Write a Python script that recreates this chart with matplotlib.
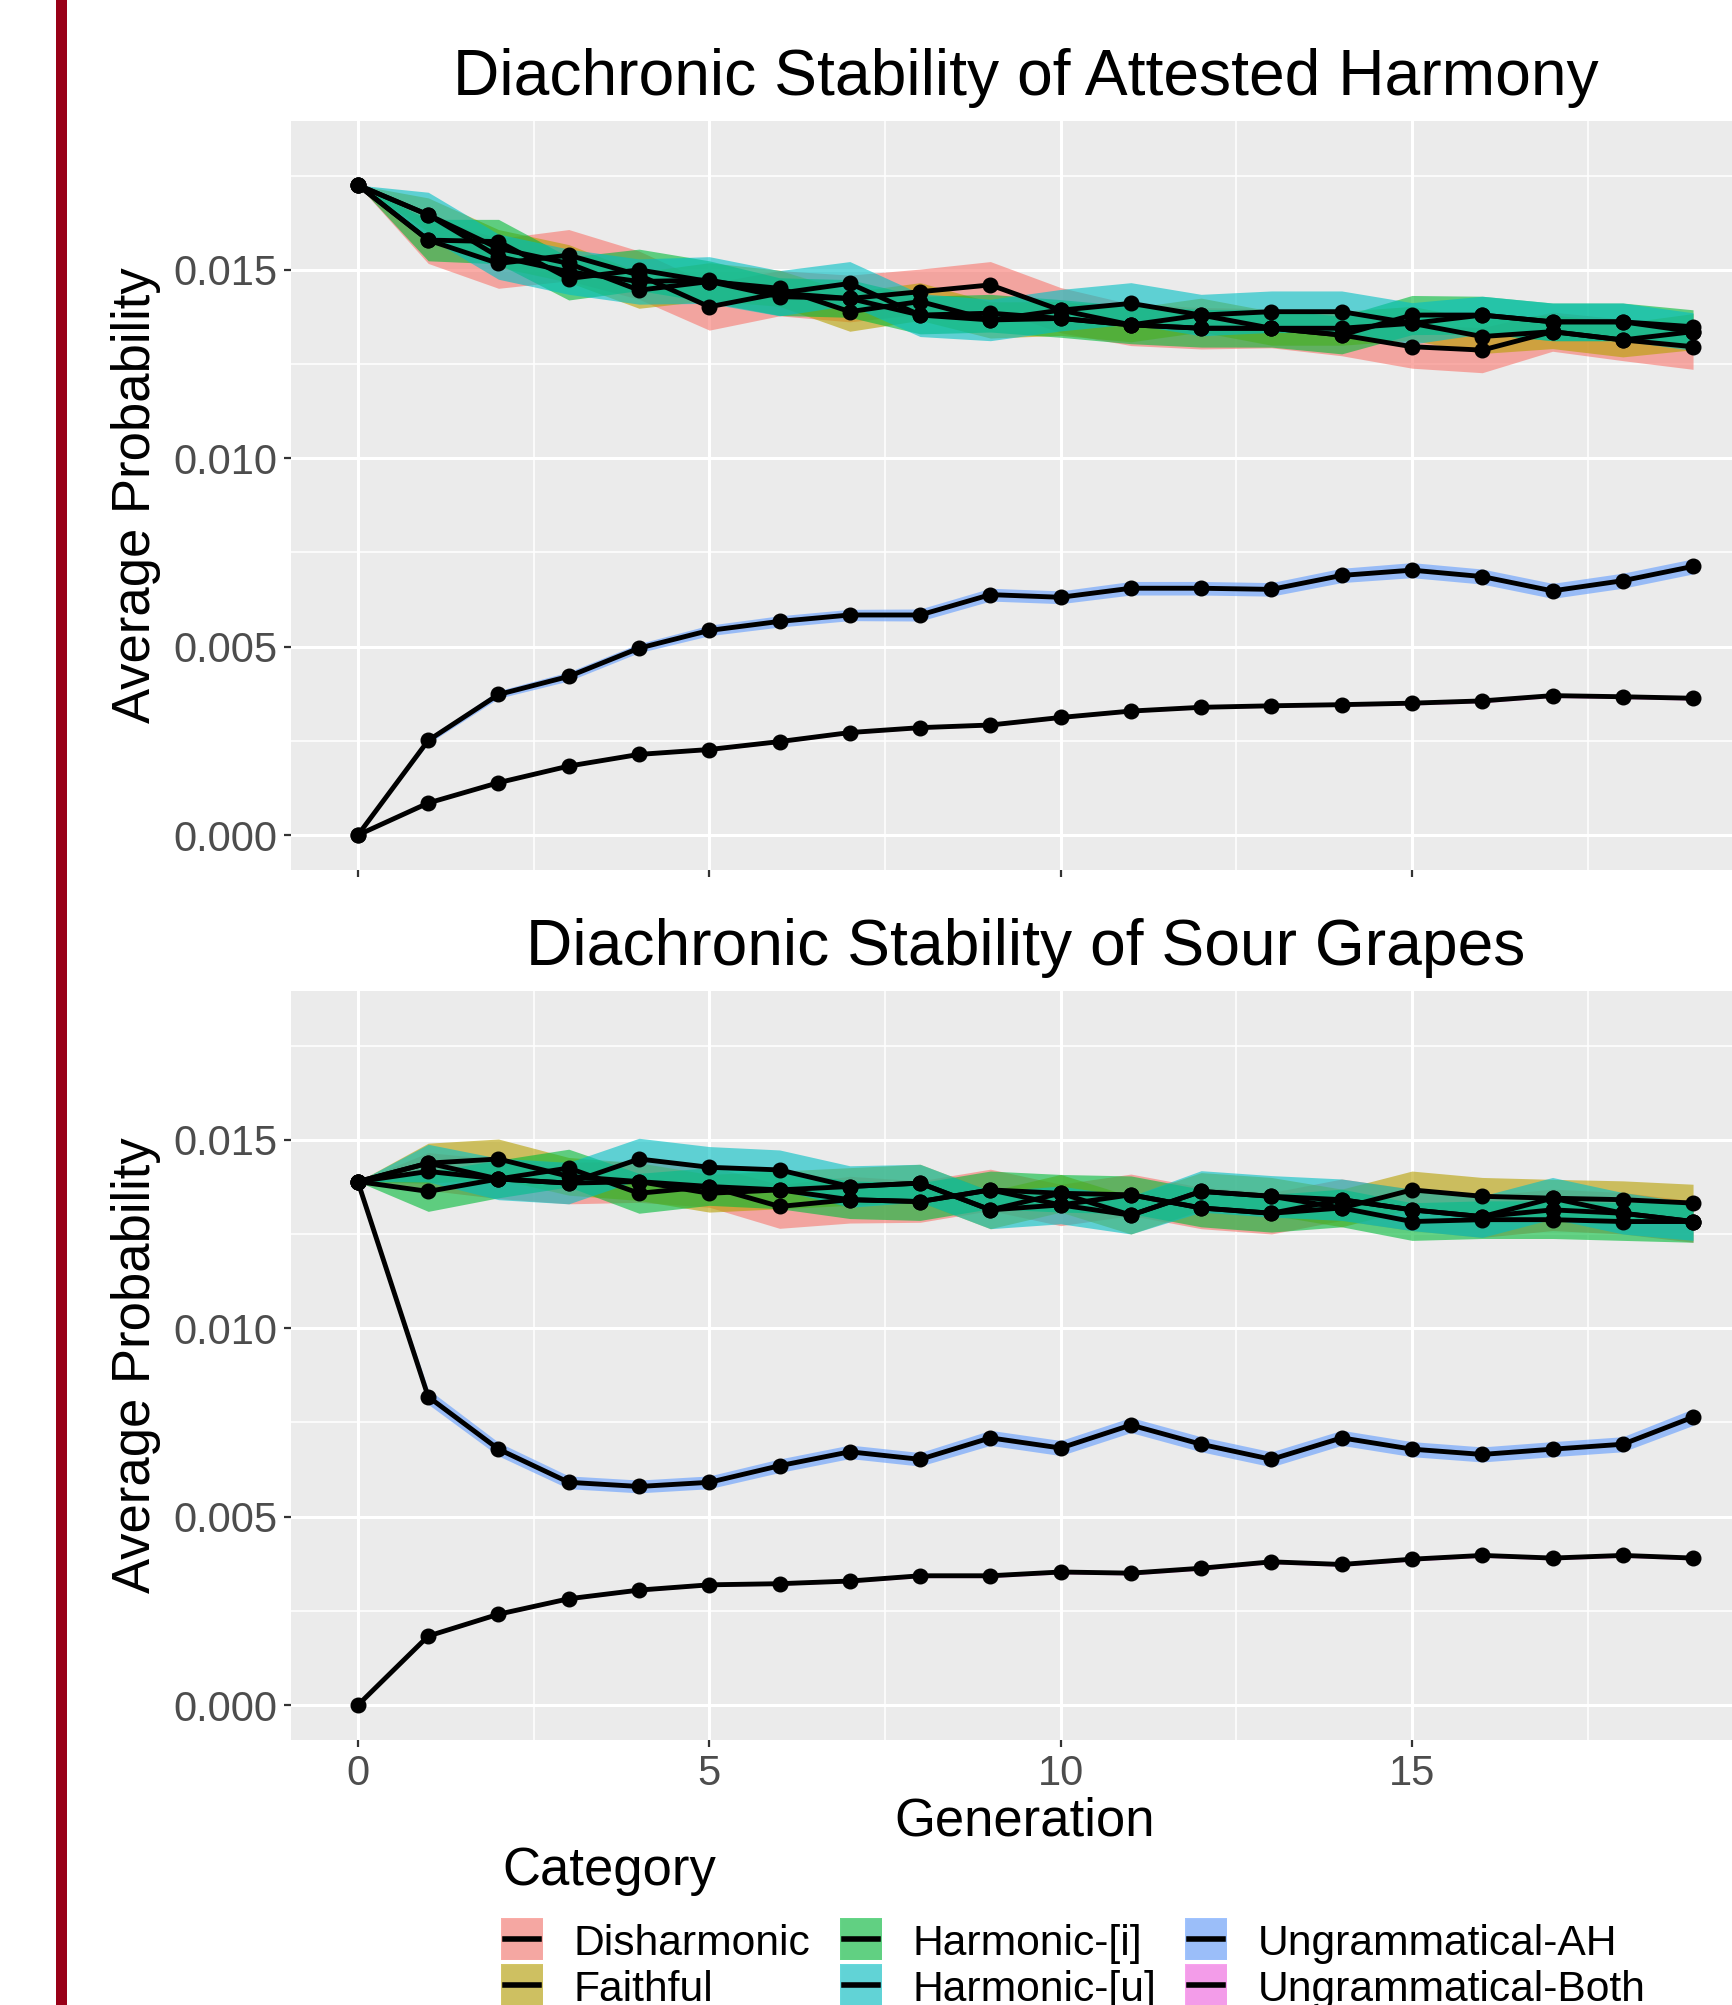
import numpy as np
import matplotlib
matplotlib.use("Agg")
import matplotlib.pyplot as plt
from matplotlib.patches import Rectangle
from matplotlib.lines import Line2D

plt.rcParams['font.family'] = ['Liberation Sans', 'DejaVu Sans']

# data (probabilities given in units of 1e-3)
generation = list(range(20))
categories = ['Disharmonic', 'Faithful', 'Harmonic-[i]', 'Harmonic-[u]',
              'Ungrammatical-AH', 'Ungrammatical-Both']
colors = ['#F8766D', '#B79F00', '#00BA38', '#00BFC4', '#619CFF', '#F564E3']

# Attested Harmony - means
ah_dis = [17.25, 15.79, 15.17, 15.39, 14.86, 14.02, 14.38, 14.24, 14.42, 14.60,
          13.93, 13.54, 13.45, 13.45, 13.27, 12.96, 12.87, 13.36, 13.14, 12.96]
ah_faith = [17.25, 16.46, 15.57, 15.17, 14.46, 14.69, 14.51, 13.89, 14.16, 13.67,
            13.71, 13.54, 13.80, 13.45, 13.45, 13.58, 13.23, 13.36, 13.14, 13.36]
ah_hi = [17.25, 15.79, 15.75, 14.77, 15.00, 14.69, 14.29, 14.24, 13.80, 13.85,
         13.71, 13.54, 13.45, 13.45, 13.27, 13.80, 13.80, 13.62, 13.62, 13.49]
ah_hu = [17.25, 16.46, 15.35, 14.95, 14.69, 14.73, 14.38, 14.64, 13.80, 13.67,
         13.93, 14.11, 13.80, 13.89, 13.89, 13.58, 13.80, 13.62, 13.62, 13.36]
ah_uah = [0.00, 2.51, 3.73, 4.21, 4.96, 5.43, 5.67, 5.84, 5.84, 6.38,
          6.31, 6.55, 6.55, 6.52, 6.89, 7.03, 6.86, 6.48, 6.75, 7.13]
ah_uboth = [0.00, 0.85, 1.39, 1.83, 2.14, 2.27, 2.48, 2.72, 2.85, 2.92,
            3.12, 3.29, 3.39, 3.43, 3.46, 3.50, 3.56, 3.70, 3.67, 3.63]

# Attested Harmony - standard errors
ah_dis_se = [0, .62, .66, .68, .64, .62, .60, .62, .60, .62,
             .60, .55, .55, .52, .55, .57, .60, .52, .55, .60]
ah_faith_se = [0, .45, .50, .50, .48, .50, .48, .52, .50, .48,
               .45, .45, .45, .45, .45, .45, .45, .45, .45, .48]
ah_hi_se = [0, .55, .59, .57, .55, .55, .50, .50, .50, .50,
            .50, .50, .50, .50, .50, .52, .50, .50, .50, .45]
ah_hu_se = [0, .60, .60, .60, .60, .62, .60, .58, .57, .55,
            .55, .55, .55, .55, .55, .55, .50, .50, .50, .50]
ah_uah_se = [0, .08, .10, .12, .12, .14, .15, .15, .16, .17,
             .17, .18, .18, .18, .19, .20, .20, .20, .20, .20]
ah_uboth_se = [0, .02, .03, .03, .03, .04, .04, .04, .04, .04,
               .04, .04, .04, .04, .04, .05, .05, .05, .05, .05]

# Sour Grapes - means
sg_dis = [13.89, 14.16, 13.96, 13.85, 13.89, 13.76, 13.23, 13.41, 13.36, 13.67,
          13.27, 13.54, 13.19, 13.05, 13.41, 13.14, 12.96, 13.14, 13.05, 12.83]
sg_faith = [13.89, 14.38, 14.49, 14.03, 13.89, 13.58, 13.67, 13.76, 13.85, 13.14,
            13.58, 13.00, 13.63, 13.50, 13.19, 13.67, 13.50, 13.45, 13.41, 13.32]
sg_hi = [13.89, 13.63, 13.96, 14.25, 13.58, 13.76, 13.67, 13.41, 13.36, 13.67,
         13.58, 13.54, 13.19, 13.05, 13.19, 12.83, 12.88, 12.88, 12.83, 12.83]
sg_hu = [13.89, 14.38, 13.96, 13.85, 14.49, 14.27, 14.20, 13.76, 13.85, 13.14,
         13.27, 13.00, 13.63, 13.50, 13.41, 13.14, 12.96, 13.45, 13.05, 12.83]
sg_uah = [13.88, 8.18, 6.79, 5.91, 5.80, 5.91, 6.35, 6.72, 6.52, 7.09,
          6.82, 7.43, 6.92, 6.52, 7.09, 6.79, 6.65, 6.79, 6.92, 7.64]
sg_uboth = [0.00, 1.83, 2.41, 2.82, 3.05, 3.19, 3.22, 3.29, 3.43, 3.43,
            3.53, 3.50, 3.63, 3.80, 3.73, 3.87, 3.97, 3.90, 3.97, 3.90]

# Sour Grapes - standard errors
sg_dis_se = [0, .50, .52, .55, .55, .55, .58, .62, .55, .55,
             .55, .55, .55, .55, .55, .55, .55, .55, .55, .55]
sg_faith_se = [0, .53, .53, .50, .50, .50, .50, .50, .50, .50,
               .50, .50, .50, .50, .50, .50, .50, .50, .50, .50]
sg_hi_se = [0, .53, .50, .50, .53, .50, .50, .50, .50, .50,
            .50, .50, .50, .50, .50, .50, .50, .50, .50, .55]
sg_hu_se = [0, .50, .55, .55, .55, .55, .53, .55, .50, .50,
            .50, .50, .55, .55, .55, .55, .55, .55, .55, .50]
sg_uah_se = [0, .20, .18, .17, .17, .17, .18, .18, .18, .20,
             .20, .20, .20, .20, .20, .20, .20, .20, .20, .22]
sg_uboth_se = [0, .03, .04, .04, .04, .04, .04, .04, .05, .05,
               .05, .05, .05, .05, .05, .05, .05, .05, .05, .05]

ah_means = [ah_dis, ah_faith, ah_hi, ah_hu, ah_uah, ah_uboth]
ah_ses = [ah_dis_se, ah_faith_se, ah_hi_se, ah_hu_se, ah_uah_se, ah_uboth_se]
sg_means = [sg_dis, sg_faith, sg_hi, sg_hu, sg_uah, sg_uboth]
sg_ses = [sg_dis_se, sg_faith_se, sg_hi_se, sg_hu_se, sg_uah_se, sg_uboth_se]

W, H = 1733, 2005


def box(l, t, r, b):
    return [l / W, 1 - b / H, (r - l) / W, (b - t) / H]


def draw_panel(ax, means, ses, title, show_xlabels):
    x = np.array(generation)
    ax.set_facecolor('#EBEBEB')
    for m, s, c in zip(means, ses, colors):
        m = np.array(m) * 1e-3
        s = np.array(s) * 1e-3
        ax.fill_between(x, m - s, m + s, color=c, alpha=0.6, lw=0, zorder=2)
    for m in means:
        ax.plot(x, np.array(m) * 1e-3, color='black', lw=3.5, zorder=3)
    for m in means:
        ax.plot(x, np.array(m) * 1e-3, 'o', color='black', ms=10.5, zorder=4)
    ax.set_xlim(-0.95, 19.95)
    ax.set_ylim(-0.00092, 0.01894)
    ax.set_xticks([0, 5, 10, 15])
    ax.set_xticks([2.5, 7.5, 12.5, 17.5], minor=True)
    ax.set_yticks([0, 0.005, 0.010, 0.015])
    ax.set_yticks([0.0025, 0.0075, 0.0125, 0.0175], minor=True)
    ax.set_yticklabels(['0.000', '0.005', '0.010', '0.015'])
    if show_xlabels:
        ax.set_xticklabels(['0', '5', '10', '15'])
    else:
        ax.set_xticklabels([])
    ax.grid(which='major', color='white', lw=2.2, zorder=1)
    ax.grid(which='minor', color='white', lw=1.1, zorder=1)
    ax.set_axisbelow(True)
    for sp in ax.spines.values():
        sp.set_visible(False)
    ax.tick_params(which='major', length=5, width=1.6, color='#333333',
                   labelcolor='#4D4D4D', labelsize=30)
    ax.tick_params(axis='y', pad=5)
    ax.tick_params(axis='x', pad=5)
    ax.tick_params(which='minor', length=0)
    ax.set_title(title, fontsize=46.2, pad=19)
    ax.set_ylabel('Average Probability', fontsize=37.9, va='center')
    ax.yaxis.set_label_coords((136 - 291.2) / 1468.6, 0.5)


fig = plt.figure(figsize=(W / 100, H / 100), dpi=100)

ax1 = fig.add_axes(box(291.2, 121.4, 1759.8, 869.7))
draw_panel(ax1, ah_means, ah_ses, 'Diachronic Stability of Attested Harmony', False)

ax2 = fig.add_axes(box(291.2, 991.3, 1759.8, 1739.7))
draw_panel(ax2, sg_means, sg_ses, 'Diachronic Stability of Sour Grapes', True)

fig.text(1025 / W, 1 - 1836 / H, 'Generation', fontsize=37.9,
         ha='center', va='baseline')

# legend (bottom row is cut by the lower edge, as in the source image)
fig.text(502 / W, 1 - 1885 / H, 'Category', fontsize=37.9, ha='left', va='baseline')
col_x = [501, 840, 1185]
row_top = [1918, 1964]
for i, (cat, c) in enumerate(zip(categories, colors)):
    cx = col_x[i // 2]
    ry = row_top[i % 2]
    fig.add_artist(Rectangle((cx / W, 1 - (ry + 42) / H), 42 / W, 42 / H,
                             transform=fig.transFigure, facecolor='#F2F2F2',
                             edgecolor='white', lw=1))
    fig.add_artist(Rectangle((cx / W, 1 - (ry + 42) / H), 42 / W, 42 / H,
                             transform=fig.transFigure, facecolor=c, alpha=0.6, lw=0))
    fig.add_artist(Line2D([(cx + 4) / W, (cx + 38) / W],
                          [1 - (ry + 21) / H, 1 - (ry + 21) / H],
                          transform=fig.transFigure, color='black', lw=4))
    fig.text((cx + 73) / W, 1 - (ry + 37) / H, cat, fontsize=30.7,
             ha='left', va='baseline')

# red margin bar
fig.add_artist(Rectangle((56 / W, 0), 11 / W, 1, transform=fig.transFigure,
                         facecolor='#990018', lw=0))

fig.savefig('out.png', dpi=100)
